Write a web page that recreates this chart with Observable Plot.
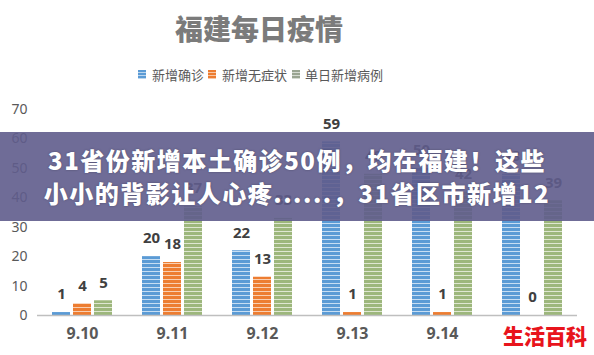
<!DOCTYPE html>
<html><head><meta charset="utf-8">
<script src="https://cdn.jsdelivr.net/npm/d3@7"></script>
<script src="https://cdn.jsdelivr.net/npm/@observablehq/plot@0.6"></script>
<style>
body{margin:0;background:#fff;}
#wrap{position:relative;width:594px;height:355px;overflow:hidden;background:#fff;font-family:"Noto Sans","Noto Sans CJK SC",sans-serif;}
#chart{position:absolute;left:0;top:0;}
.title{position:absolute;left:175px;top:13px;font-family:"Noto Sans CJK SC",sans-serif;font-weight:900;font-size:28px;line-height:30px;color:#7b7b7b;white-space:nowrap;}
.lg{position:absolute;top:67px;font-family:"Noto Sans CJK SC",sans-serif;font-size:13px;line-height:15px;color:#595959;white-space:nowrap;}
.sw{position:absolute;top:70px;width:8px;height:9px;}
.banner{position:absolute;left:0;top:132px;width:594px;height:89px;background:rgba(95,92,140,0.9);}
.bl{position:absolute;left:0;width:594px;text-align:center;color:#fff;font-family:"Noto Sans CJK SC",sans-serif;font-weight:900;font-size:24px;line-height:26px;letter-spacing:1.5px;white-space:nowrap;text-shadow:0 0 2px rgba(40,40,60,0.5);}
.mark{position:absolute;left:501px;top:323px;padding:0 2px;background:#fff;color:#e8141c;font-family:"Noto Sans CJK SC",sans-serif;font-weight:900;font-size:21px;line-height:24px;white-space:nowrap;}
#chart g[aria-label="y-axis tick label"] text{font-size:14px;fill:#595959;}
#chart g[aria-label="fx-axis tick label"] text{font-size:16px;font-weight:bold;fill:#595959;}
</style></head><body>
<div id="wrap">
  <div id="chart"></div>
  <div class="title">福建每日疫情</div>
  <div class="sw" style="left:138px;background:repeating-linear-gradient(#5b9bd5 0 2px,#bcd6ee 2px 3px);"></div>
  <div class="lg" style="left:152px;">新增确诊</div>
  <div class="sw" style="left:208px;background:repeating-linear-gradient(#ed7d31 0 2px,#f8c7a6 2px 3px);"></div>
  <div class="lg" style="left:222px;">新增无症状</div>
  <div class="sw" style="left:292px;background:repeating-linear-gradient(#9aa592 0 2px,#d6dbd2 2px 3px);"></div>
  <div class="lg" style="left:305px;">单日新增病例</div>
  <div class="banner">
    <div class="bl" style="top:15px;">31省份新增本土确诊50例，均在福建！这些</div>
    <div class="bl" style="top:48px;">小小的背影让人心疼......，31省区市新增12</div>
  </div>
  <div class="mark">生活百科</div>
</div>
<script>
const dates = ["9.10", "9.11", "9.12", "9.13", "9.14", "9.15"];
const series = ["新增确诊", "新增无症状", "单日新增病例"];
const confirmed = [1, 20, 22, 59, 50, 48];
const asymptomatic = [4, 18, 13, 1, 1, 0];
const daily = [5, 37, 33, 48, 42, 39];
const yTicks = [0, 10, 20, 30, 40, 50, 60, 70];

const rows = [];
dates.forEach((d, i) => {
  [confirmed, asymptomatic, daily].forEach((arr, j) => {
    rows.push({date: d, series: series[j], value: arr[i]});
  });
});

const plot = Plot.plot({
  width: 594,
  height: 355,
  marginTop: 109,
  marginBottom: 40,
  marginLeft: 37,
  marginRight: 17,
  style: {background: "transparent", fontFamily: "'Noto Sans', sans-serif", overflow: "visible"},
  fx: {domain: dates, padding: 0, label: null, tickSize: 0, tickPadding: 12},
  x: {domain: series, axis: null, paddingInner: 0.143, paddingOuter: 0.714},
  y: {domain: [0, 70], ticks: yTicks, tickSize: 0, tickPadding: 10, label: null},
  color: {domain: series, range: ["url(#pb)", "url(#po)", "url(#pg)"]},
  marks: [
    Plot.barY(rows, {fx: "date", x: "series", y: "value", fill: "series"}),
    Plot.ruleY([0], {stroke: "#bfbfbf", strokeWidth: 1.5}),
    Plot.text(rows, {fx: "date", x: "series", y: "value", text: "value", dy: -18,
      fill: "#404040", fontSize: 15, fontWeight: "bold", fontFamily: "'Noto Sans', sans-serif"})
  ]
});

const svg = d3.select(plot);
const defs = svg.insert("defs", ":first-child");
function pat(id, c1, c2) {
  const p = defs.append("pattern").attr("id", id).attr("patternUnits", "userSpaceOnUse")
    .attr("width", 8).attr("height", 4);
  p.append("rect").attr("width", 8).attr("height", 4).attr("fill", c1);
  p.append("rect").attr("y", 3).attr("width", 8).attr("height", 1).attr("fill", c2);
}
pat("pb", "#5b9bd5", "#c7def3");
pat("po", "#ed7d31", "#f9cfb2");
pat("pg", "#9db77c", "#dfe7d2");

document.getElementById("chart").appendChild(plot);
</script>
</body></html>
